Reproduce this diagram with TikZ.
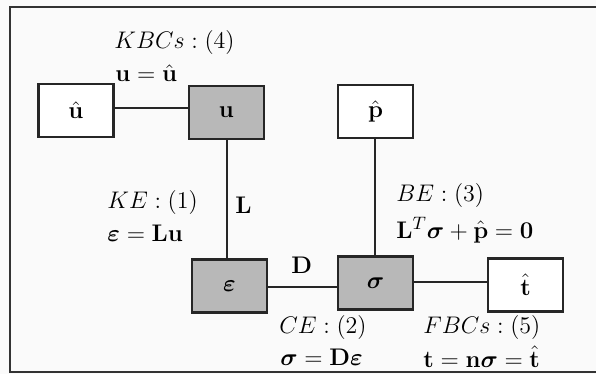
\documentclass[tikz,border=0pt]{standalone}
\usepackage{amsmath,bm}
\begin{document}
\begin{tikzpicture}[x=0.5pt,y=-0.5pt,
  box/.style={draw=black!85,line width=1.1pt,minimum width=37.5pt,minimum height=26.5pt,inner sep=0pt,fill=white,font=\fontsize{12.5}{15}\selectfont},
  gbox/.style={box,fill=black!28},
  conn/.style={draw=black!85,line width=1.2pt},
  lab/.style={anchor=west,inner sep=0pt,font=\fontsize{12.5}{15}\selectfont}]
\useasboundingbox (0,0) rectangle (596,374);
\fill[black!2] (0,0) rectangle (596,374);
\draw[line width=1.2pt,black!80] (596,7) -- (10,7) -- (10,372) -- (596,372);
% nodes
\node[box]  (uh)  at (76,110.5)  {$\hat{\mathbf{u}}$};
\node[gbox] (u)   at (226.5,112.5) {$\mathbf{u}$};
\node[box]  (ph)  at (375.5,111.5) {$\hat{\mathbf{p}}$};
\node[gbox] (eps) at (229.5,286)   {$\bm{\varepsilon}$};
\node[gbox] (sig) at (375.5,283)   {$\bm{\sigma}$};
\node[box]  (th)  at (525.5,285)   {$\hat{\mathbf{t}}$};
% connectors
\draw[conn] (uh.east |- 0,108) -- (u.west |- 0,108);
\draw[conn] (u.south -| 227,0) -- (eps.north -| 227,0);
\draw[conn] (eps.east |- 0,287) -- (sig.west |- 0,287);
\draw[conn] (ph.south -| 375,0) -- (sig.north -| 375,0);
\draw[conn] (sig.east |- 0,282) -- (th.west |- 0,282);
% labels
\node[lab] (l4a) at (114,43)  {$KBCs:(4)$};
\node[lab] (l4b) at (115,73)  {$\mathbf{u}=\hat{\mathbf{u}}$};
\node[lab] (l1a) at (107,203) {$KE:(1)$};
\node[lab] (l1b) at (107,233) {$\bm{\varepsilon}=\mathbf{Lu}$};
\node[lab] (lL)  at (235,205) {$\mathbf{L}$};
\node[lab] (lD)  at (291,265) {$\mathbf{D}$};
\node[lab] (l3a) at (396,196) {$BE:(3)$};
\node[lab] (l3b) at (396,230) {$\mathbf{L}^T\bm{\sigma}+\hat{\mathbf{p}}=\mathbf{0}$};
\node[lab] (l2a) at (279,328) {$CE:(2)$};
\node[lab] (l2b) at (280,357) {$\bm{\sigma}=\mathbf{D}\bm{\varepsilon}$};
\node[lab] (l5a) at (423,328) {$FBCs:(5)$};
\node[lab] (l5b) at (423,357) {$\mathbf{t}=\mathbf{n}\bm{\sigma}=\hat{\mathbf{t}}$};
\end{tikzpicture}
\end{document}
